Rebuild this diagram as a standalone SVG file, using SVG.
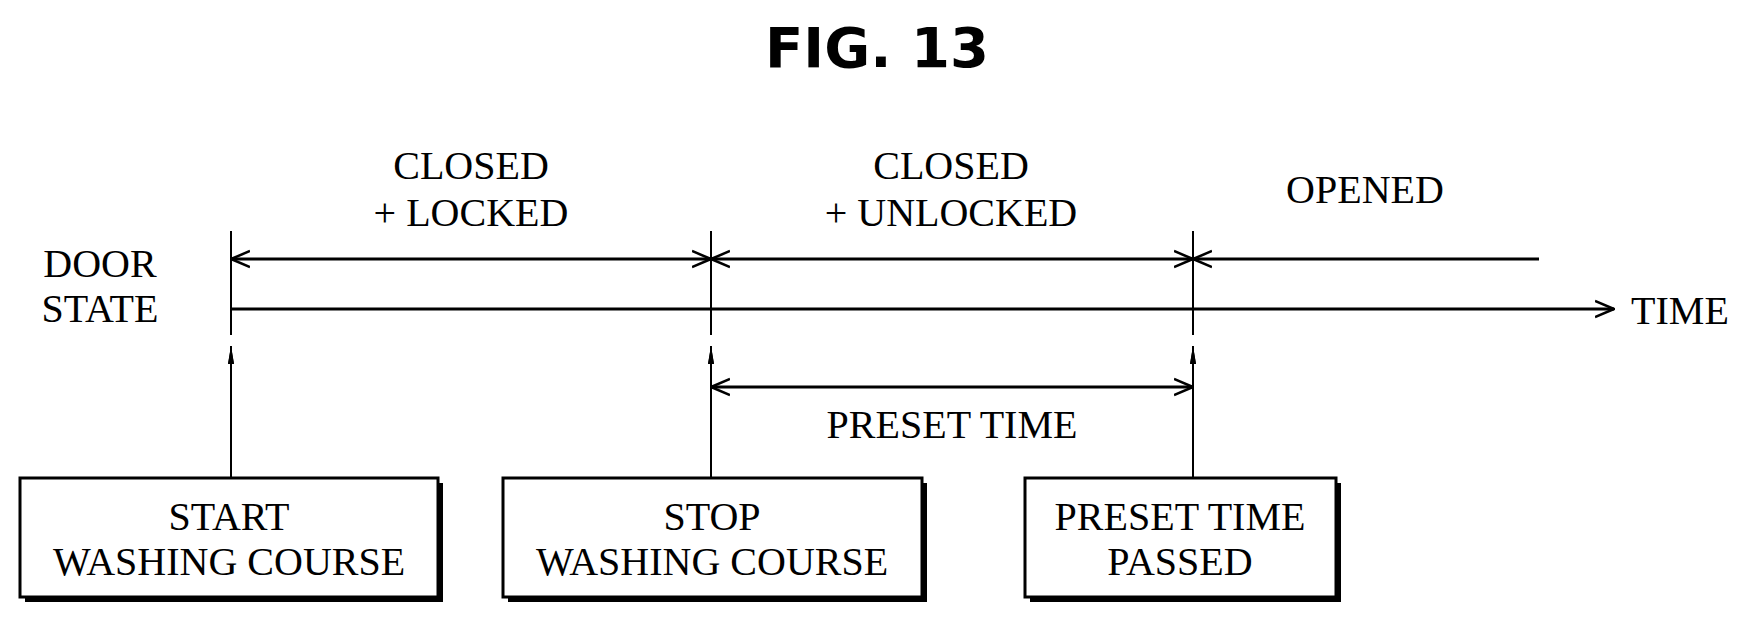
<svg xmlns="http://www.w3.org/2000/svg" width="1751" height="623" viewBox="0 0 1751 623">
<defs>
<style>
.t{font-family:"Liberation Serif",serif;font-size:40px;fill:#000;text-anchor:middle}
.ln{stroke:#000;stroke-width:3;fill:none}
.dl{stroke:#000;stroke-width:2;fill:none}
.box{fill:#fff;stroke:#000;stroke-width:3}
.sh{fill:#000}
</style>
<marker id="open" viewBox="0 0 20 20" refX="19" refY="10" markerWidth="20" markerHeight="20" markerUnits="userSpaceOnUse" orient="auto-start-reverse"><path d="M0,2 L19,10 L0,18" fill="none" stroke="#000" stroke-width="2.5"/></marker>
<marker id="solid" viewBox="0 0 10 20" refX="5" refY="0" markerWidth="10" markerHeight="20" markerUnits="userSpaceOnUse" orient="0"><path d="M5,0 L8,18 L2,18 Z" fill="#000"/></marker>
</defs>
<rect width="1751" height="623" fill="#fff"/>
<text x="877" y="67" style="font-family:'DejaVu Sans',sans-serif;font-weight:bold;font-size:56px;text-anchor:middle">FIG. 13</text>
<text class="t" x="100" y="277">DOOR</text>
<text class="t" x="100" y="322">STATE</text>
<text class="t" x="471" y="179">CLOSED</text>
<text class="t" x="471" y="226">+ LOCKED</text>
<text class="t" x="951" y="179">CLOSED</text>
<text class="t" x="951" y="226">+ UNLOCKED</text>
<text class="t" x="1365" y="203">OPENED</text>
<text class="t" x="1680" y="324">TIME</text>
<text class="t" x="952" y="438">PRESET TIME</text>
<g id="connectors">
<line class="dl" x1="231" y1="231" x2="231" y2="335"/>
<line class="dl" x1="711" y1="231" x2="711" y2="335"/>
<line class="dl" x1="1193" y1="231" x2="1193" y2="335"/>
<line class="ln" x1="231" y1="259" x2="711" y2="259" marker-start="url(#open)" marker-end="url(#open)"/>
<line class="ln" x1="711" y1="259" x2="1193" y2="259" marker-start="url(#open)" marker-end="url(#open)"/>
<line class="ln" x1="1193" y1="259" x2="1539" y2="259" marker-start="url(#open)"/>
<line class="ln" x1="231" y1="309" x2="1614" y2="309" marker-end="url(#open)"/>
<line class="ln" x1="711" y1="387" x2="1193" y2="387" marker-start="url(#open)" marker-end="url(#open)"/>
<line class="dl" x1="231" y1="478" x2="231" y2="346" marker-end="url(#solid)"/>
<line class="dl" x1="711" y1="478" x2="711" y2="346" marker-end="url(#solid)"/>
<line class="dl" x1="1193" y1="478" x2="1193" y2="346" marker-end="url(#solid)"/>
<path d="M231,346 l-3,18 h6 z M711,346 l-3,18 h6 z M1193,346 l-3,18 h6 z" fill="#000"/>
</g>
<g id="start">
<rect class="sh" x="25" y="483" width="418" height="119"/>
<rect class="box" x="20" y="478" width="418" height="119"/>
<text class="t" x="229" y="530">START</text>
<text class="t" x="229" y="575">WASHING COURSE</text>
</g>
<g id="stop">
<rect class="sh" x="508" y="483" width="419" height="119"/>
<rect class="box" x="503" y="478" width="419" height="119"/>
<text class="t" x="712" y="530">STOP</text>
<text class="t" x="712" y="575">WASHING COURSE</text>
</g>
<g id="passed">
<rect class="sh" x="1030" y="483" width="311" height="119"/>
<rect class="box" x="1025" y="478" width="311" height="119"/>
<text class="t" x="1180" y="530">PRESET TIME</text>
<text class="t" x="1180" y="575">PASSED</text>
</g>
</svg>
